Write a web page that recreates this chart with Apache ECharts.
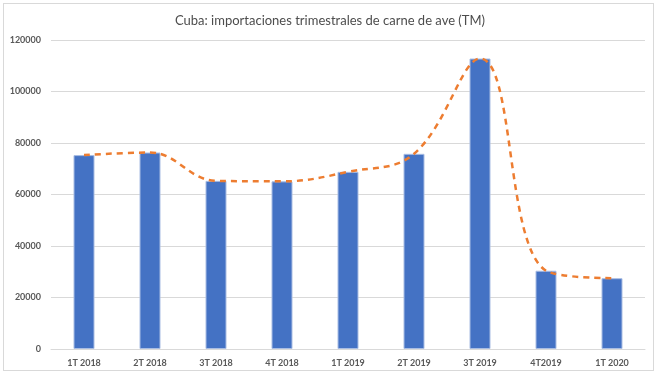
<!DOCTYPE html>
<html>
<head>
<meta charset="utf-8">
<script src="https://cdn.jsdelivr.net/npm/echarts@6/dist/echarts.min.js"></script>
<style>
html,body{margin:0;padding:0;background:#fff;}
#frame{position:absolute;left:3px;top:3px;width:651px;height:368px;border:1px solid #d9d9d9;box-sizing:border-box;}
#chart{position:absolute;left:0;top:0;width:660px;height:376px;}
</style>
</head>
<body>
<div id="frame"></div>
<div id="chart"></div>
<script>
const titleText = 'Cuba: importaciones trimestrales de carne de ave (TM)';
const categories = ['1T 2018','2T 2018','3T 2018','4T 2018','1T 2019','2T 2019','3T 2019','4T2019','1T 2020'];
const imports = [75300, 76300, 65300, 65100, 68800, 75800, 112800, 30400, 27500];
const yTicks = {min: 0, max: 120000, interval: 20000};

const chart = echarts.init(document.getElementById('chart'), null, {renderer: 'canvas'});
chart.setOption({
  animation: false,
  backgroundColor: 'transparent',
  title: {
    text: titleText,
    left: 'center',
    top: 9,
    textStyle: {fontFamily: 'Lato', fontSize: 13, fontWeight: 'normal', color: '#4d4d4d'}
  },
  grid: {left: 51, right: 15, top: 40, bottom: 27, containLabel: false},
  xAxis: {
    type: 'category',
    data: categories,
    axisLine: {lineStyle: {color: '#d9d9d9', width: 1}},
    axisTick: {show: false},
    axisLabel: {fontFamily: 'Lato', fontSize: 9, fontWeight: 'bold', color: '#595959', margin: 10}
  },
  yAxis: {
    type: 'value',
    min: yTicks.min, max: yTicks.max, interval: yTicks.interval,
    axisLine: {show: false},
    axisTick: {show: false},
    splitLine: {lineStyle: {color: '#d9d9d9', width: 1}},
    axisLabel: {fontFamily: 'Lato', fontSize: 9, fontWeight: 'bold', color: '#595959', margin: 10,
      formatter: function (v) { return String(v); }}
  },
  series: [
    {
      type: 'bar',
      data: imports,
      barWidth: 21,
      itemStyle: {color: '#4472C4', borderColor: '#a9bde3', borderWidth: 1}
    },
    {
      type: 'line',
      data: imports,
      smooth: 0.4,
      symbol: 'none',
      lineStyle: {color: '#ED7D31', width: 2.5, type: [6, 5]}
    }
  ]
});
</script>
</body>
</html>
